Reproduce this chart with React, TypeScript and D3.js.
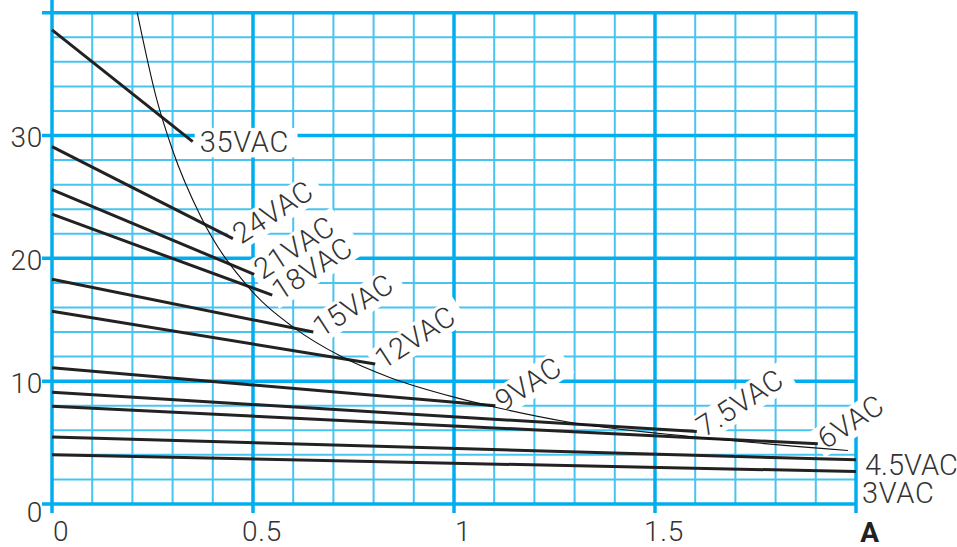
import React from 'react';
import * as d3 from 'd3';

// rated output voltage per winding, current axis in A
const labels = ['35VAC', '24VAC', '21VAC', '18VAC', '15VAC', '12VAC', '9VAC', '7.5VAC', '6VAC', '4.5VAC', '3VAC'];
const vAtZero = [38.6, 29.1, 25.6, 23.6, 18.3, 15.7, 11.1, 9.1, 7.96, 5.45, 4.0];
const endCurrent = [0.35, 0.45, 0.503, 0.548, 0.65, 0.804, 1.103, 1.604, 1.905, 2.0, 2.0];
const vAtEnd = [29.5, 21.6, 18.7, 17.0, 14.0, 11.4, 8.0, 5.9, 4.9, 3.6, 2.64];

// thin power-limit curve (A, V)
const limitCurve: [number, number][] = [
  [0.212, 40], [0.26, 33], [0.3, 28.8], [0.37, 23.4], [0.49, 17.6], [0.6, 14.4],
  [0.72, 12], [0.84, 10.3], [1.0, 8.7], [1.1, 7.9], [1.28, 6.7], [1.6, 5.45], [1.98, 4.35],
];

const xTicks = [0, 0.5, 1, 1.5];
const yTicks = [0, 10, 20, 30];

const W = 957;
const H = 547;
const FONT = 'Roboto, "Liberation Sans", Arial, sans-serif';
const FS = 29;
const LS = 0.7;
const MAJOR = '#00aeef';
const MINOR = '#48c4f1';

const charW: Record<string, number> = {V: 0.65, A: 0.66, C: 0.65, '.': 0.26};
const textWidth = (s: string) => s.split('').reduce((a, c) => a + (charW[c] ?? 0.56) * FS + LS, 0);

// where each label sits relative to its line end: [dx, dy, rotation]
const labelPlace = (name: string): [number, number, number] => {
  if (name === '35VAC') return [7, 10, 0];
  if (name === '4.5VAC') return [9, 15, 0];
  if (name === '3VAC') return [6, 31, 0];
  return [8, 6, -33];
};

export default function App() {
  const x = d3.scaleLinear().domain([0, 2]).range([52, 856]);
  const y = d3.scaleLinear().domain([0, 40]).range([504, 12.7]);

  const minorX = d3.range(1, 20).map(i => i / 10).filter(v => Math.abs(v * 2 - Math.round(v * 2)) > 1e-6);
  const minorY = d3.range(2, 40, 2).filter(v => v % 10 !== 0);

  const line = d3.line<[number, number]>().x(d => x(d[0])).y(d => y(d[1]));
  const curve = d3.line<[number, number]>().x(d => x(d[0])).y(d => y(d[1])).curve(d3.curveMonotoneX);

  const series = labels.map((name, i) => ({
    name,
    pts: [[0, vAtZero[i]], [endCurrent[i], vAtEnd[i]]] as [number, number][],
  }));

  const labelItems = series.map(s => {
    const end = s.pts[1];
    const [dx, dy, rot] = labelPlace(s.name);
    const px = x(end[0]) + dx;
    const py = y(end[1]) + dy;
    return {name: s.name, px, py, rot, w: textWidth(s.name)};
  });

  return (
    <svg width={W} height={H} style={{position: 'absolute', left: 0, top: 0, background: '#fff'}}>
      {/* minor grid */}
      <g stroke={MINOR} strokeWidth={2}>
        {minorX.map(v => <line key={`mx${v}`} x1={x(v)} x2={x(v)} y1={y(40)} y2={y(0)} />)}
        {minorY.map(v => <line key={`my${v}`} x1={x(0)} x2={x(2)} y1={y(v)} y2={y(v)} />)}
      </g>
      {/* major grid */}
      <g stroke={MAJOR} strokeWidth={3.5}>
        {[0, 0.5, 1, 1.5].map(v => <line key={`Mx${v}`} x1={x(v)} x2={x(v)} y1={v === 0 ? 0 : y(40)} y2={y(0) + 9} />)}
        <line x1={x(2)} x2={x(2)} y1={y(40) - 1.5} y2={y(0) + 9} />
        {[0, 10, 20, 30, 40].map(v => <line key={`My${v}`} x1={x(0) - 10} x2={x(2)} y1={y(v)} y2={y(v)} />)}
      </g>
      {/* white backgrounds behind labels */}
      <g fill="#fff">
        {labelItems.filter(l => l.rot !== 0 || l.name === '35VAC').map(l => (
          <rect key={`bg${l.name}`} x={-5} y={-FS * 0.82} width={l.w + 10} height={FS * 1.02}
                transform={`translate(${l.px},${l.py}) rotate(${l.rot})`} />
        ))}
      </g>
      {/* voltage lines */}
      <g fill="none" stroke="#222" strokeWidth={3}>
        {series.map(s => <path key={s.name} d={line(s.pts) ?? ''} />)}
      </g>
      <path d={curve(limitCurve) ?? ''} fill="none" stroke="#111" strokeWidth={1.1} />
      {/* labels */}
      <g fontFamily={FONT} fontSize={FS} fontWeight={300} fill="#333">
        {labelItems.map(l => (
          <text key={`t${l.name}`} letterSpacing={l.name === '4.5VAC' ? 0 : LS}
                transform={`translate(${l.px},${l.py}) rotate(${l.rot})`}>{l.name}</text>
        ))}
      </g>
      {/* tick labels */}
      <g fontFamily={FONT} fontSize={28} fontWeight={300} fill="#333" letterSpacing={LS}>
        {yTicks.map(v => (
          <text key={`yt${v}`} x={43} y={y(v) + (v === 0 ? 8 : 2)} textAnchor="end" dominantBaseline="central">{v}</text>
        ))}
        {xTicks.map(v => (
          <text key={`xt${v}`} x={x(v) + 9} y={531} textAnchor="middle" dominantBaseline="central">{v}</text>
        ))}
        <text x={x(2) + 14} y={532} textAnchor="middle" dominantBaseline="central" fontWeight="bold" fill="#222">A</text>
      </g>
    </svg>
  );
}
